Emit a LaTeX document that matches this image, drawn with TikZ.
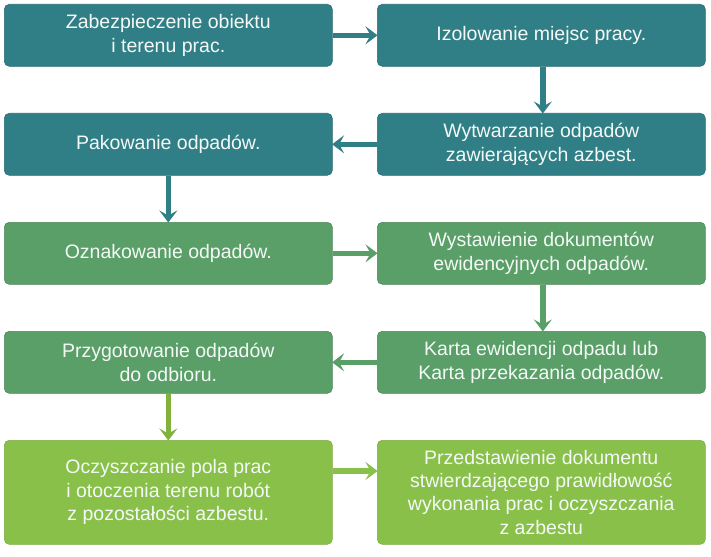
\documentclass[tikz,border=0pt]{standalone}
\usepackage{fontspec}
\setmainfont{Liberation Sans}
\usetikzlibrary{arrows.meta,positioning}
\definecolor{cteal}{HTML}{317F86}
\definecolor{cgreen}{HTML}{5A9F68}
\definecolor{clime}{HTML}{89C04A}
\definecolor{colive}{HTML}{82B23C}
\definecolor{ctext}{HTML}{F4F9F7}
\begin{document}
\begin{tikzpicture}[x=1pt,y=-1pt,
  box/.style={rectangle, rounded corners=5pt, anchor=north west,
    minimum width=328pt, minimum height=62pt, inner sep=2pt,
    text=ctext, align=center,
    font=\fontsize{19.5pt}{23.4pt}\selectfont},
  tealbox/.style={box, fill=cteal, draw=cteal!85!black, line width=0.6pt},
  greenbox/.style={box, fill=cgreen, draw=cgreen!85!black, line width=0.6pt},
  limebox/.style={box, fill=clime, draw=clime!90!black, line width=0.6pt, minimum height=104pt},
  arr/.style={line width=5.5pt, -{Stealth[length=12pt,width=18pt,inset=5pt]}, shorten >=-0.5pt}
]
\useasboundingbox (0,0) rectangle (711,556);

\node[tealbox] (a1) at (4,4) {Zabezpieczenie obiektu\\i terenu prac.};
\node[tealbox] (b1) at (377,4) {Izolowanie miejsc pracy.};
\node[tealbox] (a2) at (4,113) {Pakowanie odpadów.};
\node[tealbox] (b2) at (377,113) {Wytwarzanie odpadów\\zawierających azbest.};
\node[greenbox] (a3) at (4,222) {Oznakowanie odpadów.};
\node[greenbox] (b3) at (377,222) {Wystawienie dokumentów\\ewidencyjnych odpadów.};
\node[greenbox] (a4) at (4,331) {Przygotowanie odpadów\\do odbioru.};
\node[greenbox] (b4) at (377,331) {Karta ewidencji odpadu lub\\Karta przekazania odpadów.};
\node[limebox] (a5) at (4,440) {Oczyszczanie pola prac\\i otoczenia terenu robót\\z pozostałości azbestu.};
\node[limebox] (b5) at (377,440) {Przedstawienie dokumentu\\stwierdzającego prawidłowość\\wykonania prac i oczyszczania\\z azbestu};

\draw[arr, cteal] (a1.east) -- (b1.west);
\draw[arr, cteal] ([xshift=1.5pt]b1.south) -- ([xshift=1.5pt]b2.north);
\draw[arr, cteal] (b2.west) -- (a2.east);
\draw[arr, cteal] (a2.south) -- (a3.north);
\draw[arr, cgreen] (a3.east) -- (b3.west);
\draw[arr, cgreen] ([xshift=1.5pt]b3.south) -- ([xshift=1.5pt]b4.north);
\draw[arr, cgreen] (b4.west) -- (a4.east);
\draw[arr, colive] (a4.south) -- (a5.north);
\draw[arr, clime] ([yshift=-31pt]a5.north east) -- ([yshift=-31pt]b5.north west);
\end{tikzpicture}
\end{document}
